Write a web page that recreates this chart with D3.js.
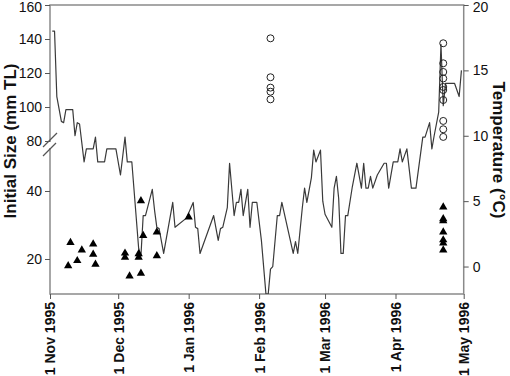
<!DOCTYPE html>
<html><head><meta charset="utf-8">
<script src="https://cdn.jsdelivr.net/npm/d3@7"></script>
<style>body{margin:0;background:#fff} svg{display:block}</style>
</head><body><svg id="c" width="510" height="376"></svg>
<script>
// ---- data ----
const monthTicks = ["1995-11-01","1995-12-01","1996-01-01","1996-02-01","1996-03-01","1996-04-01","1996-05-01"];
const sizeTicks = [20,40,80,100,120,140,160];
const tempTicks = [0,5,10,15,20];

// water temperature (days since 1 Nov 1995, °C)
const tempDay = [1,2,3,5,6,7,10,11,12,13,15,16,19,20,21,24,25,29,31,33,34,36,
  39,40,41,42,45,46,47,48,50,
  54,55,60,63,64,65,66,
  72,74,75,76,78,79,81,82,83,84,85,87,88,89,91,
  93,95,96,97,98,100,101,102,
  107,108,109,111,112,113,115,116,117,119,
  120,121,124,125,126,127,128,129,130,131,
  133,135,137,138,139,140,141,142,144,
  147,148,149,151,153,154,155,157,159,161,
  164,165,167,168,169,171,172,173,174,178,180,181];
const tempC = [18,18,13,11.1,11,12,12,10,11,10.9,8,9,9,9.9,8,8,9,9,7,9.9,8,8,
  1.4,0.8,3.9,3.9,5.9,4.3,3,2.9,1,
  4.9,3,3.7,4.9,3,2.9,1,
  3.9,2,2.9,3,4.5,7.9,3.9,4.9,4.9,5.9,3.9,5.9,3,4.9,4.9,
  2,-2.1,-2.1,-0.2,0,3.9,3.9,4.9,
  1,1.9,1,4.5,6,4.9,6.8,8.9,8,8.9,
  5,4,3,6,6.9,5.2,1,1,3.9,3.9,
  6.1,7.9,6,7.9,6,6,6.9,6,7,
  7.9,7.9,6,8,8,9,8,9,6,6,
  9.9,9.9,11,9,10,11.8,17,12.3,14,14,13,15];

// triangles (initial size, mm TL)
const triDay  = [9,8,12,14,19,19,20,33,33,35,39,39,40,41,40,47,47,61,173,173,173,173,173,173,173];
const triSize = [24.8,18.0,19.5,22.6,24.4,21.4,18.4,21.7,20.5,15.0,21.5,20.5,37.1,26.9,15.8,27.9,20.9,32.3,35.3,31.8,31.2,27.9,25.6,24.7,22.6];

// circles (initial size, mm TL)
const circDay  = [97,97,97,97,97,173,173,173,173,173,173,173,173,173,173];
const circSize = [140.4,117.5,111.4,109,104.5,137.5,125.7,120.6,116.8,111.8,110,104.1,91.8,86.9,82.4];

// ---- chart ----
const M = {l:50, r:463.7, t:5, b:294};
const FONT = "'Liberation Sans', Arial, Helvetica, sans-serif";
const svg = d3.select("#c");
const parse = d3.utcParse("%Y-%m-%d");
const t0 = parse(monthTicks[0]);
const dayDate = d => d3.utcDay.offset(t0, d);

const x = d3.scaleUtc().domain([t0, parse(monthTicks[monthTicks.length-1])]).range([M.l, M.r]);
const yL = d3.scaleLinear().domain([9.7, 50, 70, 160]).range([M.b, 157, 158, M.t]);
const yR = d3.scaleLinear().domain([-2.1, 20]).range([M.b, M.t]);

svg.append("defs").append("clipPath").attr("id","clip")
  .append("rect").attr("x",M.l).attr("y",M.t).attr("width",M.r-M.l).attr("height",M.b-M.t);

// frame
svg.append("rect").attr("x",M.l).attr("y",M.t).attr("width",M.r-M.l).attr("height",M.b-M.t)
  .attr("fill","none").attr("stroke","#8a8a8a").attr("stroke-width",1.5);

// axes
function styleAxis(g){
  g.select(".domain").remove();
  g.selectAll(".tick line").attr("stroke","#555");
  g.selectAll("text").attr("fill","#111");
  g.attr("font-family",FONT);
}
const gx = svg.append("g").attr("transform",`translate(0,${M.b})`)
  .call(d3.axisBottom(x).tickValues(monthTicks.map(parse)).tickSize(5).tickFormat(d3.utcFormat("%-d %b %Y")))
  .call(styleAxis).attr("font-size",14).attr("font-weight","bold");
gx.selectAll("text").attr("transform","rotate(-90)").attr("text-anchor","end")
  .attr("x",-8).attr("y",0).attr("dy","0.35em");

const gl = svg.append("g").attr("transform",`translate(${M.l},0)`)
  .call(d3.axisLeft(yL).tickValues(sizeTicks).tickSize(5).tickPadding(3))
  .call(styleAxis).attr("font-size",14);
gl.selectAll(".tick text").filter(d=>d===160).attr("dy","0.45em");

const gr = svg.append("g").attr("transform",`translate(${M.r},0)`)
  .call(d3.axisRight(yR).tickValues(tempTicks).tickSize(5).tickPadding(4))
  .call(styleAxis).attr("font-size",14);
gr.selectAll(".tick text").filter(d=>d===20).attr("dy","0.45em");

// axis break
svg.append("line").attr("x1",M.l).attr("x2",M.l).attr("y1",142).attr("y2",148)
  .attr("stroke","#fff").attr("stroke-width",4);
[[43,147,57,133],[43,156,56,143]].forEach(s=>{
  svg.append("line").attr("x1",s[0]).attr("y1",s[1]).attr("x2",s[2]).attr("y2",s[3])
    .attr("stroke","#555").attr("stroke-width",1.2);
});

// temperature line
const tempData = tempDay.map((d,i)=>({d, v:tempC[i]}));
svg.append("path").datum(tempData).attr("clip-path","url(#clip)")
  .attr("fill","none").attr("stroke","#3a3a3a").attr("stroke-width",1.2).attr("stroke-linejoin","round")
  .attr("d", d3.line().x(d=>x(dayDate(d.d))).y(d=>yR(d.v)));

// triangles
const triData = triDay.map((d,i)=>({d, v:triSize[i]}));
svg.append("g").selectAll("path").data(triData).join("path")
  .attr("transform",d=>`translate(${x(dayDate(d.d))},${yL(d.v)})`)
  .attr("d", d3.symbol(d3.symbolTriangle, 30)).attr("fill","#000");

// circles
const circData = circDay.map((d,i)=>({d, v:circSize[i]}));
svg.append("g").selectAll("circle").data(circData).join("circle")
  .attr("cx",d=>x(dayDate(d.d))).attr("cy",d=>yL(d.v)).attr("r",3.5)
  .attr("fill","none").attr("stroke","#222").attr("stroke-width",1);

// titles
svg.append("text").attr("transform","translate(16,141) rotate(-90)").attr("text-anchor","middle")
  .attr("font-family",FONT).attr("font-weight","bold").attr("font-size",17).attr("fill","#111")
  .text("Initial Size (mm TL)");
svg.append("text").attr("transform","translate(493,150) rotate(90)").attr("text-anchor","middle")
  .attr("font-family",FONT).attr("font-weight","bold").attr("font-size",17).attr("fill","#111")
  .text("Temperature (°C)");
</script></body></html>
